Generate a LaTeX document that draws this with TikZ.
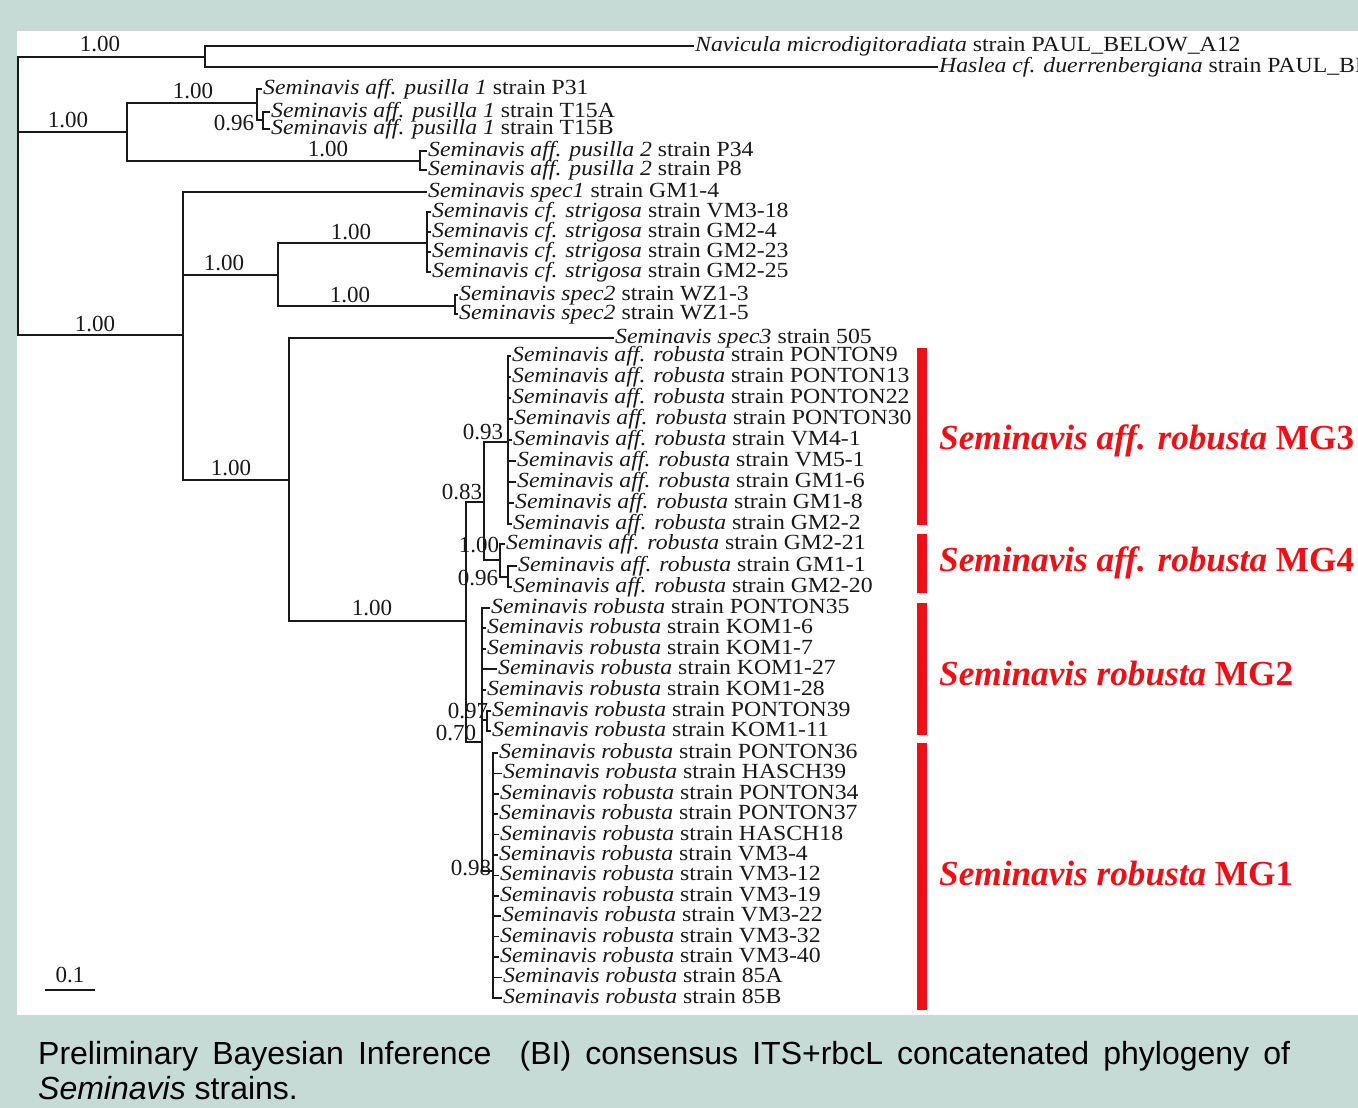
\documentclass[tikz,border=0pt]{standalone}
\usepackage{fontspec}
\setmainfont{Liberation Serif}
\newfontfamily\tipfont[FakeStretch=1.1]{Liberation Serif}
\newfontfamily\capfont{Liberation Sans}
\definecolor{bgc}{RGB}{198,218,214}
\definecolor{grpred}{RGB}{238,16,22}
\definecolor{ink}{RGB}{25,25,25}
\begin{document}
\begin{tikzpicture}[x=1pt,y=-1pt,
  br/.style={line width=1.6pt, draw=ink},
  tip/.style={anchor=west, inner xsep=1pt, inner ysep=0pt, text=ink, font=\tipfont\fontsize{21.6}{22}\selectfont, text height=13pt, text depth=2pt},
  sup/.style={inner sep=0pt, text=ink, font=\fontsize{23}{23}\selectfont},
  grp/.style={anchor=west, inner sep=0pt, text=grpred, font=\bfseries\fontsize{35.2}{36}\selectfont},
  bar/.style={fill=grpred, draw=none},
  captext/.style={anchor=base west, inner sep=0pt, text=black, font=\capfont\fontsize{32}{36}\selectfont}]
\fill[bgc] (0,0) rectangle (1358,1108);
\fill[white] (17,31) rectangle (1358,1015);
\useasboundingbox (0,0) rectangle (1358,1108);

% internal nodes
\coordinate (root) at (18,196);
\coordinate (og) at (205,57);
\coordinate (pn) at (127,132);
\coordinate (p1) at (257,103);
\coordinate (p1b) at (263,120);
\coordinate (p2) at (420,161);
\coordinate (inn) at (183,335);
\coordinate (ss) at (278,275);
\coordinate (str) at (427,243);
\coordinate (sp2) at (455,306);
\coordinate (rn) at (289,480);
\coordinate (big) at (466,621);
\coordinate (ar) at (484,502);
\coordinate (mgc) at (508,442);
\coordinate (mgd) at (500,560);
\coordinate (mgdb) at (508,577);
\coordinate (nse) at (482,742);
\coordinate (nnn) at (487,720);
\coordinate (nei) at (493,871);

% tips
\node[tip] (t1) at (694,46) {\textit{Navicula microdigitoradiata} strain PAUL\_BELOW\_A12};
\node[tip] (t2) at (938,67) {\textit{Haslea cf. duerrenbergiana} strain PAUL\_BELOW\_A12};
\node[tip] (t3) at (262,89) {\textit{Seminavis aff. pusilla 1} strain P31};
\node[tip] (t4) at (270,112) {\textit{Seminavis aff. pusilla 1} strain T15A};
\node[tip] (t5) at (270,129) {\textit{Seminavis aff. pusilla 1} strain T15B};
\node[tip] (t6) at (427,151) {\textit{Seminavis aff. pusilla 2} strain P34};
\node[tip] (t7) at (427,170) {\textit{Seminavis aff. pusilla 2} strain P8};
\node[tip] (t8) at (427,192) {\textit{Seminavis spec1} strain GM1-4};
\node[tip] (t9) at (431,212) {\textit{Seminavis cf. strigosa} strain VM3-18};
\node[tip] (t10) at (431,232) {\textit{Seminavis cf. strigosa} strain GM2-4};
\node[tip] (t11) at (431,252) {\textit{Seminavis cf. strigosa} strain GM2-23};
\node[tip] (t12) at (431,272) {\textit{Seminavis cf. strigosa} strain GM2-25};
\node[tip] (t13) at (458,295) {\textit{Seminavis spec2} strain WZ1-3};
\node[tip] (t14) at (458,314) {\textit{Seminavis spec2} strain WZ1-5};
\node[tip] (t15) at (614,338) {\textit{Seminavis spec3} strain 505};
\node[tip] (t16) at (511,356) {\textit{Seminavis aff. robusta} strain PONTON9};
\node[tip] (t17) at (511,377) {\textit{Seminavis aff. robusta} strain PONTON13};
\node[tip] (t18) at (511,398) {\textit{Seminavis aff. robusta} strain PONTON22};
\node[tip] (t19) at (513,419) {\textit{Seminavis aff. robusta} strain PONTON30};
\node[tip] (t20) at (512,440) {\textit{Seminavis aff. robusta} strain VM4-1};
\node[tip] (t21) at (516,461) {\textit{Seminavis aff. robusta} strain VM5-1};
\node[tip] (t22) at (516,482) {\textit{Seminavis aff. robusta} strain GM1-6};
\node[tip] (t23) at (514,503) {\textit{Seminavis aff. robusta} strain GM1-8};
\node[tip] (t24) at (512,524) {\textit{Seminavis aff. robusta} strain GM2-2};
\node[tip] (t25) at (505,544) {\textit{Seminavis aff. robusta} strain GM2-21};
\node[tip] (t26) at (517,566) {\textit{Seminavis aff. robusta} strain GM1-1};
\node[tip] (t27) at (512,587) {\textit{Seminavis aff. robusta} strain GM2-20};
\node[tip] (t28) at (490,608) {\textit{Seminavis robusta} strain PONTON35};
\node[tip] (t29) at (486,628) {\textit{Seminavis robusta} strain KOM1-6};
\node[tip] (t30) at (486,649) {\textit{Seminavis robusta} strain KOM1-7};
\node[tip] (t31) at (497,669) {\textit{Seminavis robusta} strain KOM1-27};
\node[tip] (t32) at (486,690) {\textit{Seminavis robusta} strain KOM1-28};
\node[tip] (t33) at (491,711) {\textit{Seminavis robusta} strain PONTON39};
\node[tip] (t34) at (491,731) {\textit{Seminavis robusta} strain KOM1-11};
\node[tip] (t35) at (498,753) {\textit{Seminavis robusta} strain PONTON36};
\node[tip] (t36) at (502,773.4) {\textit{Seminavis robusta} strain HASCH39};
\node[tip] (t37) at (499,793.8) {\textit{Seminavis robusta} strain PONTON34};
\node[tip] (t38) at (498,814.2) {\textit{Seminavis robusta} strain PONTON37};
\node[tip] (t39) at (499,834.6) {\textit{Seminavis robusta} strain HASCH18};
\node[tip] (t40) at (498,855) {\textit{Seminavis robusta} strain VM3-4};
\node[tip] (t41) at (499,875.4) {\textit{Seminavis robusta} strain VM3-12};
\node[tip] (t42) at (499,895.8) {\textit{Seminavis robusta} strain VM3-19};
\node[tip] (t43) at (501,916.2) {\textit{Seminavis robusta} strain VM3-22};
\node[tip] (t44) at (499,936.6) {\textit{Seminavis robusta} strain VM3-32};
\node[tip] (t45) at (499,957) {\textit{Seminavis robusta} strain VM3-40};
\node[tip] (t46) at (502,977.4) {\textit{Seminavis robusta} strain 85A};
\node[tip] (t47) at (502,997.8) {\textit{Seminavis robusta} strain 85B};

% branches
\draw[br] (root) |- (og);
\draw[br] (root) |- (pn);
\draw[br] (root) |- (inn);
\draw[br] (og) |- (t1.west);
\draw[br] (og) |- (t2.west);
\draw[br] (pn) |- (p1);
\draw[br] (pn) |- (p2);
\draw[br] (p1) |- (t3.west);
\draw[br] (p1) |- (p1b);
\draw[br] (p1b) |- (t4.west);
\draw[br] (p1b) |- (t5.west);
\draw[br] (p2) |- (t6.west);
\draw[br] (p2) |- (t7.west);
\draw[br] (inn) |- (t8.west);
\draw[br] (inn) |- (ss);
\draw[br] (inn) |- (rn);
\draw[br] (ss) |- (str);
\draw[br] (ss) |- (sp2);
\foreach \t in {t9,t10,t11,t12} \draw[br] (str) |- (\t.west);
\draw[br] (sp2) |- (t13.west);
\draw[br] (sp2) |- (t14.west);
\draw[br] (rn) |- (t15.west);
\draw[br] (rn) |- (big);
\draw[br] (big) |- (ar);
\draw[br] (big) |- (nse);
\draw[br] (ar) |- (mgc);
\draw[br] (ar) |- (mgd);
\foreach \t in {t16,t17,t18,t19,t20,t21,t22,t23,t24} \draw[br] (mgc) |- (\t.west);
\draw[br] (mgd) |- (t25.west);
\draw[br] (mgd) |- (mgdb);
\draw[br] (mgdb) |- (t26.west);
\draw[br] (mgdb) |- (t27.west);
\foreach \t in {t28,t29,t30,t31,t32} \draw[br] (nse) |- (\t.west);
\draw[br] (nse) |- (nnn);
\draw[br] (nse) |- (nei);
\draw[br] (nnn) |- (t33.west);
\draw[br] (nnn) |- (t34.west);
\foreach \t in {t35,t36,t37,t38,t39,t40,t41,t42,t43,t44,t45,t46,t47} \draw[br] (nei) |- (\t.west);

% support values
\node[sup] (s1) at (100,44) {1.00};
\node[sup] (s2) at (68,120) {1.00};
\node[sup] (s3) at (193,91) {1.00};
\node[sup] (s4) at (234,123) {0.96};
\node[sup] (s5) at (328,149) {1.00};
\node[sup] (s6) at (95,324) {1.00};
\node[sup] (s7) at (224,263) {1.00};
\node[sup] (s8) at (351,232) {1.00};
\node[sup] (s9) at (350,295) {1.00};
\node[sup] (s10) at (231,468) {1.00};
\node[sup] (s11) at (372,608) {1.00};
\node[sup] (s12) at (483,432) {0.93};
\node[sup] (s13) at (462,492) {0.83};
\node[sup] (s14) at (479,545) {1.00};
\node[sup] (s15) at (478,578) {0.96};
\node[sup] (s16) at (468,711) {0.97};
\node[sup] (s17) at (456,733) {0.70};
\node[sup] (s18) at (471,868) {0.98};

% scale bar
\node[sup] (sbl) at (70,975) {0.1};
\coordinate (sba) at (45,990);
\coordinate (sbb) at (95,990);
\draw[br] (sba) -- (sbb);

% group bars and labels
\fill[bar] (917,348) rectangle (927,525);
\fill[bar] (917,534) rectangle (927,593);
\fill[bar] (917,603) rectangle (927,735);
\fill[bar] (917,743) rectangle (927,1010);
\node[grp] (g3) at (939,441) {\textit{Seminavis aff. robusta} MG3};
\node[grp] (g4) at (939,563) {\textit{Seminavis aff. robusta} MG4};
\node[grp] (g2) at (939,673) {\textit{Seminavis robusta} MG2};
\node[grp] (g1) at (939,873) {\textit{Seminavis robusta} MG1};

% caption
\node[captext] (c1) at (38,1064) {\makebox[1252pt][s]{Preliminary Bayesian Inference\ \ (BI) consensus ITS+rbcL concatenated phylogeny of}};
\node[captext] (c2) at (38,1099) {\textit{Seminavis} strains.};
\end{tikzpicture}
\end{document}
